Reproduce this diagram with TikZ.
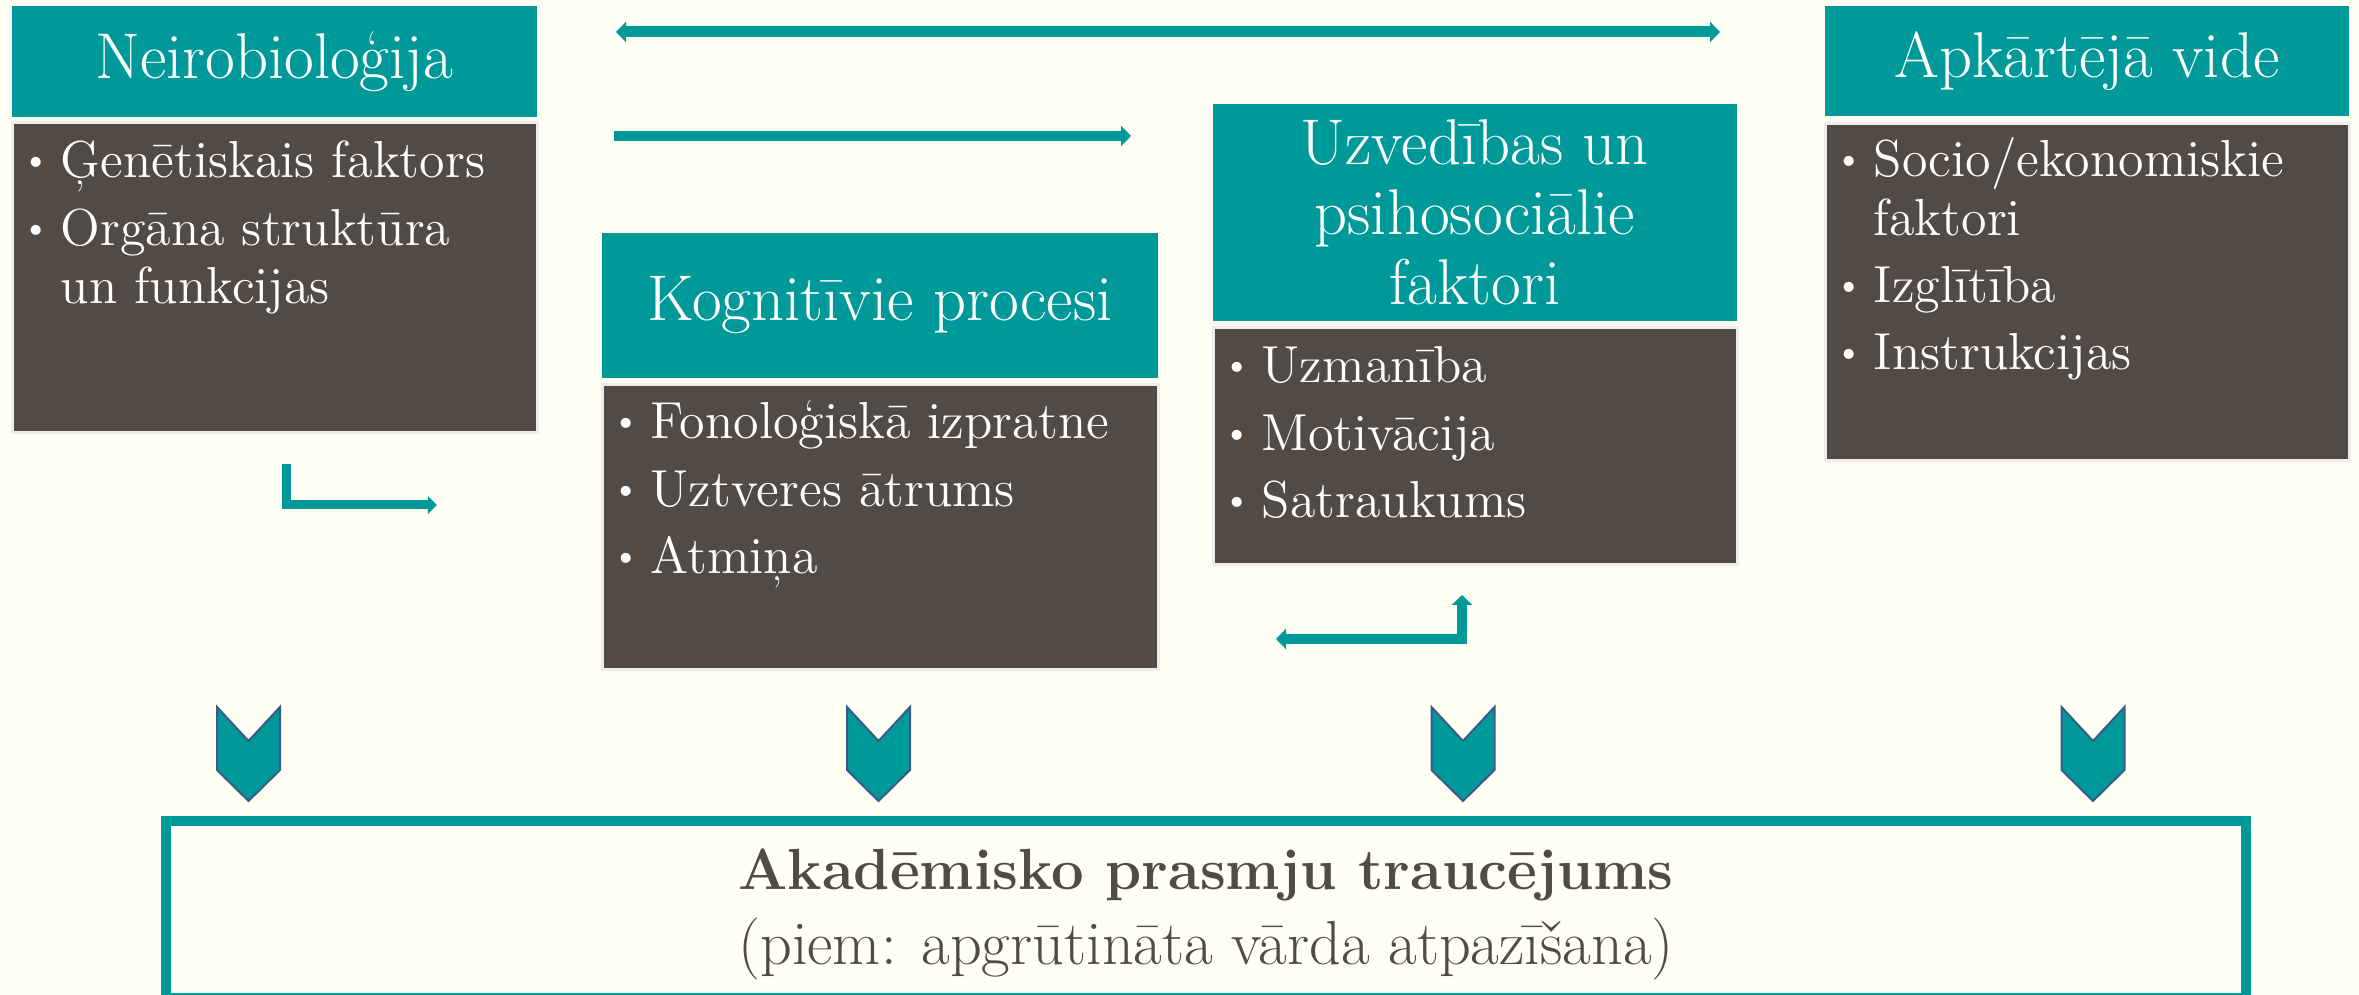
\documentclass[tikz,border=0pt]{standalone}
\usepackage{fontspec}
\usetikzlibrary{arrows.meta}
\definecolor{hdteal}{HTML}{009999}
\definecolor{bodybrown}{HTML}{524A45}
\definecolor{bgcream}{HTML}{FFFFF3}
\definecolor{chevblue}{HTML}{3A5A8C}
% one bullet item with hanging indent
\newcommand{\bul}{\par\hangindent=0.38cm\hangafter=1\noindent\makebox[0.38cm][l]{\raisebox{0.07cm}{\fontsize{10}{10}\selectfont\textbullet}}}
\newcommand{\blist}[1]{\parbox[t]{5.4cm}{\fontsize{14.8}{16.5}\selectfont\raggedright\parskip=2.6pt #1}}
\tikzset{
  hdbox/.style={fill=hdteal, text=white, anchor=north west, inner sep=0pt, align=center,
    font=\fontsize{18.4}{19.9}\selectfont},
  bodybox/.style={fill=bodybrown, draw=black!7, line width=0.03cm, anchor=north west, inner sep=0pt},
  bodytext/.style={text=white, anchor=base west, inner sep=0pt},
  flow/.style={draw=hdteal, line width=0.1cm},
  tip/.tip={Triangle[length=0.1cm, width=0.2cm]},
  chev/.style={fill=hdteal, draw=chevblue, line width=0.02cm}
}
\begin{document}
\begin{tikzpicture}[x=0.01cm, y=-0.01cm]
  \useasboundingbox (0,0) rectangle (2359,995);
  \fill[bgcream] (0,0) rectangle (2359,995);
  %
  % headers
  \node[hdbox, minimum width=5.25cm, minimum height=1.11cm] (neuroH) at (11,5) {Neirobioloģija};
  \node[hdbox, minimum width=5.56cm, minimum height=1.45cm] (cogH) at (601,232) {Kognitīvie procesi};
  \node[hdbox, minimum width=5.24cm, minimum height=2.17cm] (behH) at (1212,103) {Uzvedības un\\psihosociālie\\faktori};
  \node[hdbox, minimum width=5.24cm, minimum height=1.10cm] (envH) at (1824,5) {Apkārtējā vide};
  %
  % bodies
  \node[bodybox, minimum width=5.25cm, minimum height=3.10cm] (neuroB) at (11,121) {};
  \node[bodybox, minimum width=5.56cm, minimum height=2.85cm] (cogB) at (601,383) {};
  \node[bodybox, minimum width=5.24cm, minimum height=2.37cm] (behB) at (1212,326) {};
  \node[bodybox, minimum width=5.24cm, minimum height=3.37cm] (envB) at (1824,122) {};
  %
  \node[bodytext] (neuroL) at (22,178) {\blist{\bul Ģenētiskais faktors \bul Orgāna struktūra\newline un funkcijas}};
  \node[bodytext] (cogL) at (612,439) {\blist{\bul Fonoloģiskā izpratne \bul Uztveres ātrums \bul Atmiņa}};
  \node[bodytext] (behL) at (1223,383) {\blist{\bul Uzmanība \bul Motivācija \bul Satraukums}};
  \node[bodytext] (envL) at (1835,177) {\blist{\bul Socio/ekonomiskie\newline faktori \bul Izglītība \bul Instrukcijas}};
  %
  % arrows
  \coordinate (linkL) at (616,32);
  \coordinate (linkR) at (1720,32);
  \draw[flow, line width=0.11cm, tip-tip] (linkL) -- (linkR);
  \coordinate (cogS) at (614,136);
  \coordinate (cogE) at (1131,136);
  \draw[flow, -tip] (cogS) -- (cogE);
  \coordinate (bendA) at (286.5,464);
  \coordinate (bendB) at (437,505);
  \draw[flow, line width=0.09cm, -{Triangle[length=0.09cm, width=0.17cm]}] (bendA) |- (bendB);
  \coordinate (loopA) at (1276,639);
  \coordinate (loopB) at (1462,595);
  \draw[flow, tip-tip] (loopA) -| (loopB);
  %
  % chevrons
  \foreach \cx in {248.5, 878.5, 1463, 2093} {
    \draw[chev] (\cx-31.5,707) -- (\cx,741) -- (\cx+31.5,707) -- (\cx+31.5,770) -- (\cx,801) -- (\cx-31.5,770) -- cycle;
  }
  %
  % result
  \node[draw=hdteal, line width=0.1cm, minimum width=20.78cm, minimum height=1.765cm, inner sep=0pt] (result) at (1206,909.75) {};
  \node[text=bodybrown, anchor=base, inner sep=0pt] (resultT) at (1206,890)
    {\fontsize{17.7}{21.3}\selectfont\begin{tabular}[t]{@{}c@{}}{\fontsize{16.5}{21.3}\selectfont\bfseries Akadēmisko prasmju traucējums}\\(piem: apgrūtināta vārda atpazīšana)\end{tabular}};
\end{tikzpicture}
\end{document}
